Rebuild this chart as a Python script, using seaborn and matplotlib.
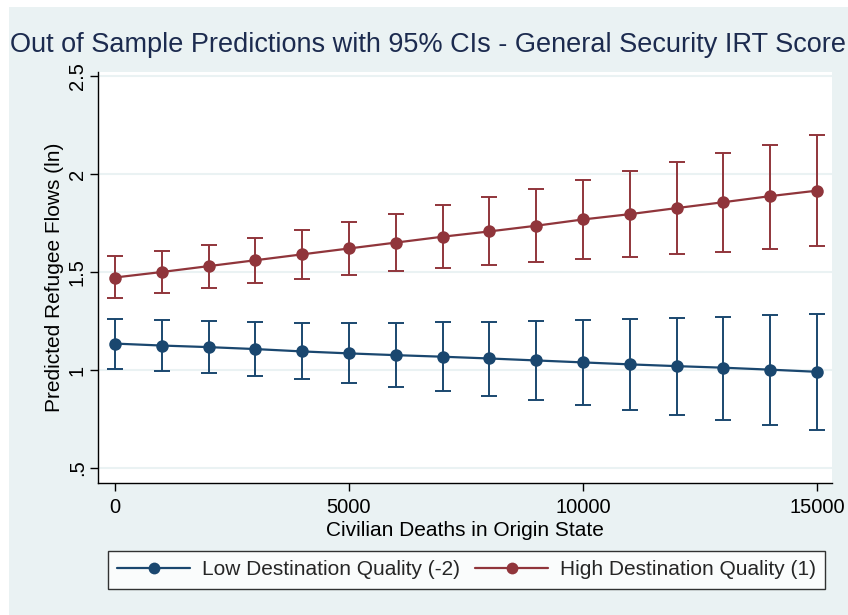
import numpy as np
import pandas as pd
import matplotlib
matplotlib.use("Agg")
import matplotlib.pyplot as plt
import seaborn as sns
from matplotlib.lines import Line2D
from matplotlib.patches import Rectangle

deaths = [0, 1000, 2000, 3000, 4000, 5000, 6000, 7000, 8000, 9000, 10000, 11000, 12000, 13000, 14000, 15000]

low_mean = [1.135, 1.125, 1.117, 1.107, 1.095, 1.085, 1.076, 1.068, 1.059, 1.049, 1.039, 1.029, 1.020, 1.012, 1.002, 0.991]
low_hi = [1.262, 1.255, 1.249, 1.244, 1.240, 1.239, 1.239, 1.244, 1.247, 1.250, 1.254, 1.260, 1.265, 1.272, 1.279, 1.288]
low_lo = [1.007, 0.996, 0.983, 0.970, 0.953, 0.934, 0.915, 0.892, 0.870, 0.845, 0.821, 0.797, 0.772, 0.746, 0.721, 0.694]

high_mean = [1.472, 1.500, 1.530, 1.560, 1.590, 1.620, 1.650, 1.680, 1.707, 1.736, 1.768, 1.795, 1.826, 1.856, 1.887, 1.915]
high_hi = [1.580, 1.609, 1.640, 1.675, 1.715, 1.755, 1.797, 1.840, 1.880, 1.924, 1.970, 2.013, 2.059, 2.105, 2.150, 2.198]
high_lo = [1.365, 1.394, 1.421, 1.445, 1.465, 1.485, 1.503, 1.519, 1.535, 1.550, 1.565, 1.579, 1.592, 1.604, 1.619, 1.631]

series_names = ["Low Destination Quality (-2)", "High Destination Quality (1)"]
x_ticks = [0, 5000, 10000, 15000]
x_ticklabels = ["0", "5000", "10000", "15000"]
y_ticks = [0.5, 1, 1.5, 2, 2.5]
y_ticklabels = [".5", "1", "1.5", "2", "2.5"]

title = "Out of Sample Predictions with 95% CIs - General Security IRT Score"
xlabel = "Civilian Deaths in Origin State"
ylabel = "Predicted Refugee Flows (ln)"

sns.set_theme(style="white")
plt.rcParams["font.family"] = ["Liberation Sans", "DejaVu Sans"]

BG = "#eaf2f3"
BLUE = "#1a476f"
RED = "#90353b"

df = pd.DataFrame({
    "deaths": deaths * 2,
    "pred": low_mean + high_mean,
    "series": [series_names[0]] * len(deaths) + [series_names[1]] * len(deaths),
})

W, H = 848, 615
fig = plt.figure(figsize=(W / 100, H / 100), dpi=100, facecolor="white")
fig.patches.append(Rectangle((9 / W, 0), 1 - 9 / W, 1 - 7 / H, transform=fig.transFigure,
                             facecolor=BG, edgecolor="none", zorder=-10))

ax = fig.add_axes([98 / W, 1 - 483 / H, (832 - 98) / W, (483 - 72) / H])
ax.set_facecolor("white")

for y in y_ticks:
    ax.axhline(y, color=BG, lw=1.5, zorder=0)

ax.errorbar(deaths, low_mean,
            yerr=[np.array(low_mean) - np.array(low_lo), np.array(low_hi) - np.array(low_mean)],
            fmt="none", ecolor=BLUE, elinewidth=1.4, capsize=6, capthick=1.4, zorder=2)
ax.errorbar(deaths, high_mean,
            yerr=[np.array(high_mean) - np.array(high_lo), np.array(high_hi) - np.array(high_mean)],
            fmt="none", ecolor=RED, elinewidth=1.4, capsize=6, capthick=1.4, zorder=2)

sns.lineplot(data=df, x="deaths", y="pred", hue="series",
             palette={series_names[0]: BLUE, series_names[1]: RED},
             marker="o", markersize=9, markeredgewidth=0, linewidth=1.6,
             legend=False, ax=ax, zorder=3)

ax.set_xlim(-362, 15320)
ax.set_ylim(0.424, 2.52)
ax.set_xticks(x_ticks)
ax.set_xticklabels(x_ticklabels, fontsize=14.5, color="black")
ax.set_yticks(y_ticks)
ax.set_yticklabels(y_ticklabels, fontsize=14.5, color="black", rotation=90, va="center")
ax.tick_params(axis="both", direction="out", length=6, width=1, color="black", left=True, bottom=True)
ax.tick_params(axis="x", pad=5)
ax.tick_params(axis="y", pad=2)

for s in ["top", "right"]:
    ax.spines[s].set_visible(False)
for s in ["left", "bottom"]:
    ax.spines[s].set_color("black")
    ax.spines[s].set_linewidth(1)

ax.set_xlabel(xlabel, fontsize=15, color="black", labelpad=3)
ax.set_ylabel(ylabel, fontsize=15, color="black", labelpad=3)

fig.text(0.5 + 4 / W, 1 - 45 / H, title, ha="center", va="center", fontsize=19.5, color="#1c2b4f")

handles = [
    Line2D([0], [0], color=BLUE, marker="o", markersize=8.5, lw=1.6, markeredgewidth=0),
    Line2D([0], [0], color=RED, marker="o", markersize=8.5, lw=1.6, markeredgewidth=0),
]
leg = fig.legend(handles, series_names, loc="upper left",
                 bbox_to_anchor=(108 / W, 1 - 551 / H), borderaxespad=0,
                 ncol=2, fontsize=15, frameon=True, fancybox=False,
                 handlelength=3.5, columnspacing=0.75, handletextpad=0.55,
                 borderpad=0.45)
leg.get_frame().set_edgecolor("black")
leg.get_frame().set_linewidth(1)
leg.get_frame().set_facecolor("white")

fig.savefig("out.png", dpi=100, facecolor="white")
